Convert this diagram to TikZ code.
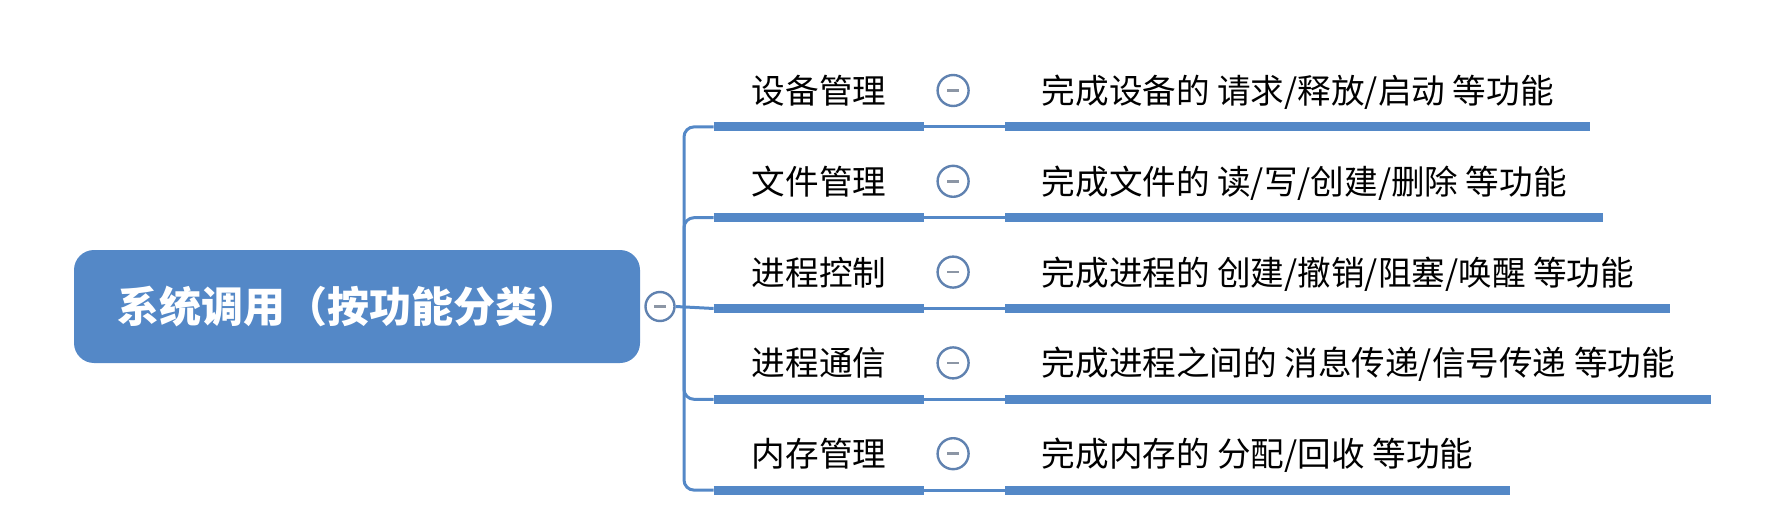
\documentclass[tikz,border=0pt]{standalone}
\usepackage{fontspec}
\setmainfont{Noto Sans CJK SC}
\usetikzlibrary{%
  calc,% for the minus in the toggles
  positioning% for " of "
}
\definecolor{mapblue}{RGB}{84,136,199}
\definecolor{btnline}{RGB}{96,130,176}
\definecolor{btnminus}{RGB}{140,150,165}

\begin{document}
\begin{tikzpicture}[
    x=0.5pt,y=-0.5pt,line cap=butt,
    root/.style={rectangle,rounded corners=10pt,fill=mapblue,text=white,
        font=\fontsize{21}{24}\selectfont\bfseries,
        minimum width=283pt,minimum height=56.5pt},
    topic/.style={inner sep=0pt,minimum width=105pt,
        text height=14pt,text depth=11.5pt,font=\fontsize{16.8}{20}\selectfont},
    detail/.style={inner xsep=18pt,inner ysep=0pt,
        text height=14pt,text depth=11.5pt,font=\fontsize{16.8}{20}\selectfont},
    toggle/.style={circle,draw=btnline,line width=1.2pt,fill=white,
        minimum size=15.5pt,inner sep=0pt,
        path picture={\draw[btnminus,line width=1.3pt]
            ($(path picture bounding box.center)+(-3pt,0pt)$) -- +(6pt,0pt);}},
    bar/.style={draw=mapblue,line width=4.5pt},
    link/.style={draw=mapblue,line width=1.5pt,rounded corners=5pt},
    node distance=40.5pt
  ]
    \useasboundingbox (0,0) rectangle (1781,513);

    \node[root] (sys) at (357,306.5) {系统调用（按功能分类）\hspace*{9pt}};
    \node[toggle,minimum size=14.5pt] (sysbtn) at (660,306.5) {};
    \coordinate (fork) at (684,306.5);

    \node[topic,anchor=base] (dev) at (819,103.5) {设备管理};
    \node[topic,below=19.5pt of dev] (file) {文件管理};
    \node[topic,below=19.5pt of file] (proc) {进程控制};
    \node[topic,below=19.5pt of proc] (ipc) {进程通信};
    \node[topic,below=19.5pt of ipc] (mem) {内存管理};

    \node[detail,right=of dev] (devtxt) {完成设备的 请求/释放/启动 等功能};
    \node[detail,right=of file] (filetxt) {完成文件的 读/写/创建/删除 等功能};
    \node[detail,right=of proc] (proctxt) {完成进程的 创建/撤销/阻塞/唤醒 等功能};
    \node[detail,right=of ipc] (ipctxt) {完成进程之间的 消息传递/信号传递 等功能};
    \node[detail,right=of mem] (memtxt) {完成内存的 分配/回收 等功能};

    % trunk
    \draw[link] (sysbtn.east) -- (proc.south west);
    \draw[link] (fork) |- (dev.south west);
    \draw[link] (fork) |- (file.south west);
    \draw[link] (fork) |- (ipc.south west);
    \draw[link] (fork) |- (mem.south west);

    % topic -> detail
    \draw[link] (dev.south east) -- (devtxt.south west);
    \draw[link] (file.south east) -- (filetxt.south west);
    \draw[link] (proc.south east) -- (proctxt.south west);
    \draw[link] (ipc.south east) -- (ipctxt.south west);
    \draw[link] (mem.south east) -- (memtxt.south west);

    % underlines
    \draw[bar] (dev.south west) -- (dev.south east);
    \draw[bar] (file.south west) -- (file.south east);
    \draw[bar] (proc.south west) -- (proc.south east);
    \draw[bar] (ipc.south west) -- (ipc.south east);
    \draw[bar] (mem.south west) -- (mem.south east);
    \draw[bar] (devtxt.south west) -- (devtxt.south east);
    \draw[bar] (filetxt.south west) -- (filetxt.south east);
    \draw[bar] (proctxt.south west) -- (proctxt.south east);
    \draw[bar] (ipctxt.south west) -- (ipctxt.south east);
    \draw[bar] (memtxt.south west) -- (memtxt.south east);

    \node[toggle,right=6pt of dev.base east,yshift=6.5pt] (devbtn) {};
    \node[toggle,right=6pt of file.base east,yshift=6.5pt] (filebtn) {};
    \node[toggle,right=6pt of proc.base east,yshift=6.5pt] (procbtn) {};
    \node[toggle,right=6pt of ipc.base east,yshift=6.5pt] (ipcbtn) {};
    \node[toggle,right=6pt of mem.base east,yshift=6.5pt] (membtn) {};
\end{tikzpicture}
\end{document}
